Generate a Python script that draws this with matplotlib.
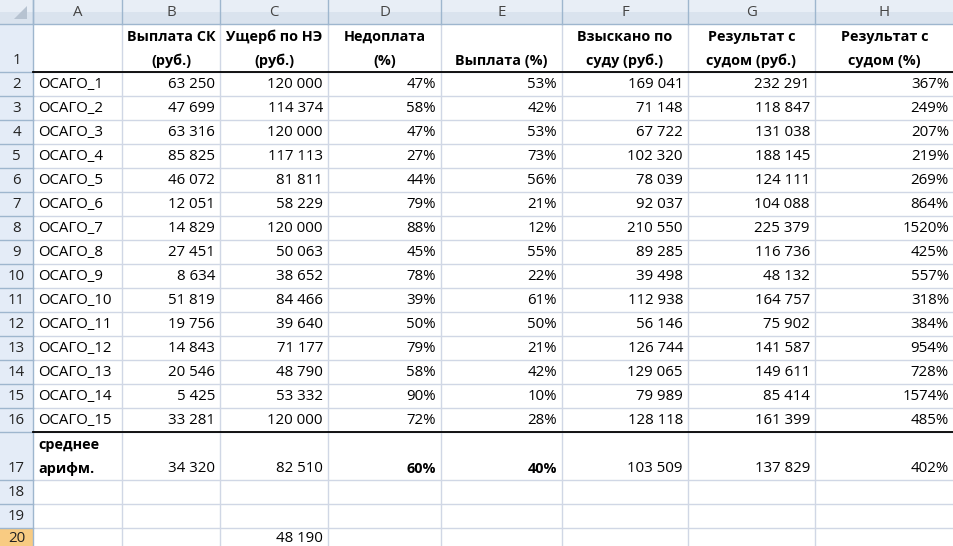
import matplotlib
matplotlib.use("Agg")
import matplotlib.pyplot as plt
from matplotlib.patches import Rectangle, Polygon

plt.rcParams['font.family'] = ['Open Sans', 'DejaVu Sans']

# ---- data ----
col_letters = ["A", "B", "C", "D", "E", "F", "G", "H"]
headers = ["", "Выплата СК\n(руб.)", "Ущерб по НЭ\n(руб.)", "Недоплата\n(%)",
           "Выплата (%)", "Взыскано по\nсуду (руб.)", "Результат с\nсудом (руб.)",
           "Результат с\nсудом (%)"]
names = ["ОСАГО_%d" % i for i in range(1, 16)]
payout_sk = ["63 250", "47 699", "63 316", "85 825", "46 072", "12 051", "14 829",
             "27 451", "8 634", "51 819", "19 756", "14 843", "20 546", "5 425", "33 281"]
damage = ["120 000", "114 374", "120 000", "117 113", "81 811", "58 229", "120 000",
          "50 063", "38 652", "84 466", "39 640", "71 177", "48 790", "53 332", "120 000"]
underpay = ["47%", "58%", "47%", "27%", "44%", "79%", "88%", "45%", "78%", "39%",
            "50%", "79%", "58%", "90%", "72%"]
payout_pct = ["53%", "42%", "53%", "73%", "56%", "21%", "12%", "55%", "22%", "61%",
              "50%", "21%", "42%", "10%", "28%"]
court = ["169 041", "71 148", "67 722", "102 320", "78 039", "92 037", "210 550",
         "89 285", "39 498", "112 938", "56 146", "126 744", "129 065", "79 989", "128 118"]
result_rub = ["232 291", "118 847", "131 038", "188 145", "124 111", "104 088", "225 379",
              "116 736", "48 132", "164 757", "75 902", "141 587", "149 611", "85 414", "161 399"]
result_pct = ["367%", "249%", "207%", "219%", "269%", "864%", "1520%", "425%", "557%",
              "318%", "384%", "954%", "728%", "1574%", "485%"]
avg_label = "среднее\nарифм."
avg_values = ["34 320", "82 510", "60%", "40%", "103 509", "137 829", "402%"]
avg_bold = [False, False, True, True, False, False, False]
row20_c = "48 190"

# ---- layout (pixels) ----
W, H = 954, 546
col_x = [0, 33, 122, 220, 328, 441, 562, 688, 815, 954]
row_y = [0, 24, 72] + [72 + 24 * i for i in range(1, 16)] + [432 + 48, 504, 528, 552]

fig = plt.figure(figsize=(W / 100, H / 100), dpi=100)
ax = fig.add_axes([0, 0, 1, 1])
ax.set_xlim(0, W)
ax.set_ylim(H, 0)
ax.axis('off')

hdr_bg = "#e4ecf7"
hdr_line = "#9eb6ce"
grid = "#d0d7e5"
fs = 10.8
fsb = 10.4

# column header bar (two-tone gradient look)
ax.add_patch(Rectangle((0, 0), W, 12, facecolor="#e8eef6", edgecolor="none"))
ax.add_patch(Rectangle((0, 12), W, 12, facecolor="#dae3ee", edgecolor="none"))
# row header column
ax.add_patch(Rectangle((0, 24), 33, H - 24, facecolor=hdr_bg, edgecolor="none"))
# row 20 highlighted
ax.add_patch(Rectangle((0, 528), 33, 30, facecolor="#f8cb82", edgecolor="none"))
# corner triangle
ax.add_patch(Polygon([[27, 6], [27, 19], [14, 19]], closed=True, facecolor="#b7c3d1", edgecolor="none"))

# gridlines in body
for x in col_x[2:-1]:
    ax.plot([x, x], [24, H], color=grid, lw=1, zorder=1)
for y in row_y[2:]:
    ax.plot([33, W], [y, y], color=grid, lw=1, zorder=1)
# header separators
for x in col_x[1:-1]:
    ax.plot([x, x], [0, 24], color=hdr_line, lw=1, zorder=2)
ax.plot([0, W], [24, 24], color=hdr_line, lw=1, zorder=2)
ax.plot([33, 33], [0, H], color=hdr_line, lw=1, zorder=2)
for y in row_y[2:]:
    ax.plot([0, 33], [y, y], color=hdr_line, lw=1, zorder=2)
# black borders
ax.plot([33, W], [72, 72], color="black", lw=1.3, zorder=3)
ax.plot([33, W], [432, 432], color="black", lw=1.3, zorder=3)

# column letters
for i, L in enumerate(col_letters):
    ax.text((col_x[i + 1] + col_x[i + 2]) / 2, 13, L, ha='center', va='center',
            fontsize=fs, color="#444444")

# row numbers
row_nums = [str(i) for i in range(1, 21)]
for i, n in enumerate(row_nums):
    top, bot = row_y[i + 1], row_y[i + 2]
    yc = bot - 11 if i < 19 else 538
    ax.text(16.5, yc, n, ha='center', va='center', fontsize=fs, color="#222222")

# header row 1
for i, h in enumerate(headers):
    if not h:
        continue
    cx = (col_x[i + 1] + col_x[i + 2]) / 2
    lines = h.split("\n")
    for k, line in enumerate(reversed(lines)):
        ax.text(cx, 61 - 24 * k, line, ha='center', va='center', fontsize=fsb,
                fontweight='bold', color="black")

# body rows
cols = [payout_sk, damage, underpay, payout_pct, court, result_rub, result_pct]
for r in range(15):
    yc = row_y[r + 3] - 11
    ax.text(col_x[1] + 5, yc, names[r], ha='left', va='center', fontsize=fs)
    for c, colvals in enumerate(cols):
        ax.text(col_x[c + 3] - 5, yc, colvals[r], ha='right', va='center', fontsize=fs)

# average row
yb = 480 - 11
l1, l2 = avg_label.split("\n")
ax.text(col_x[1] + 5, yb - 24, l1, ha='left', va='center', fontsize=fsb, fontweight='bold')
ax.text(col_x[1] + 5, yb, l2, ha='left', va='center', fontsize=fsb, fontweight='bold')
for c, v in enumerate(avg_values):
    b = avg_bold[c]
    ax.text(col_x[c + 3] - 5, yb, v, ha='right', va='center', fontsize=fsb if b else fs,
            fontweight='bold' if b else 'normal')

# row 20
ax.text(col_x[4] - 5, 538, row20_c, ha='right', va='center', fontsize=fs)

fig.savefig("out.png", dpi=100)
